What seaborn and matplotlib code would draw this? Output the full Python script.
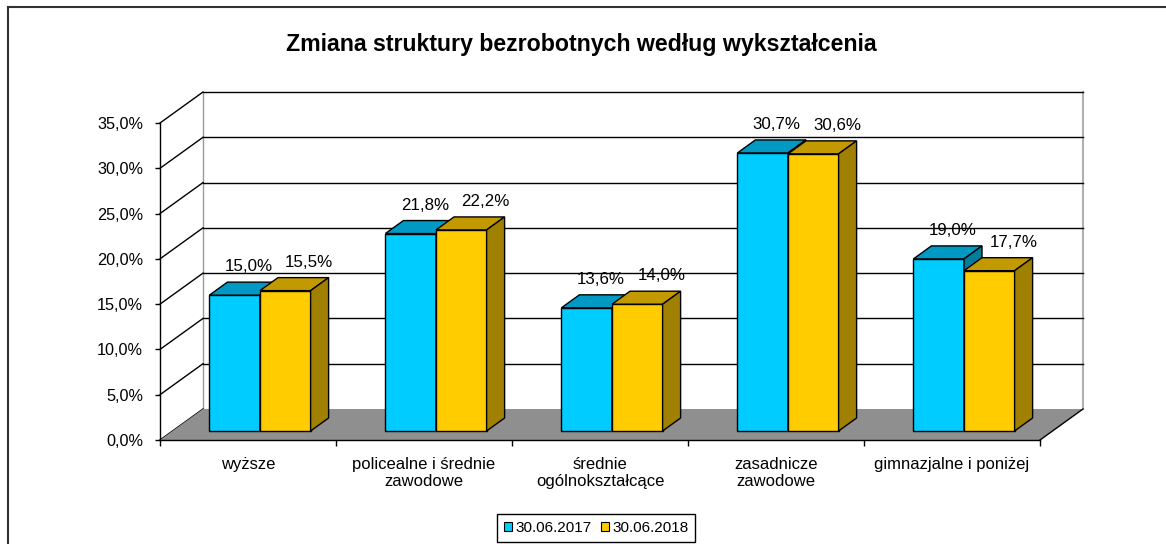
import matplotlib
matplotlib.use('Agg')
import matplotlib.pyplot as plt
from matplotlib.patches import Polygon, Patch
from matplotlib.lines import Line2D
from matplotlib.ticker import FuncFormatter
from matplotlib.transforms import offset_copy
import numpy as np
import pandas as pd
import seaborn as sns

# Data
categories = ['wyższe', 'policealne i średnie\nzawodowe', 'średnie\nogólnokształcące',
              'zasadnicze\nzawodowe', 'gimnazjalne i poniżej']
series = ['30.06.2017', '30.06.2018']
vals_2017 = [15.0, 21.8, 13.6, 30.7, 19.0]
vals_2018 = [15.5, 22.2, 14.0, 30.6, 17.7]
y_ticks = [0, 5, 10, 15, 20, 25, 30, 35]
title = 'Zmiana struktury bezrobotnych według wykształcenia'

# Colours: front / top / side of each series
front_cols = ['#00ccff', '#ffcc00']
top_cols = ['#0099c4', '#c29a00']
side_cols = ['#007c9c', '#a08000']

df = pd.DataFrame({
    'kategoria': categories * 2,
    'wartosc': vals_2017 + vals_2018,
    'data': [series[0]] * len(categories) + [series[1]] * len(categories),
})

plt.rcParams['font.family'] = ['Liberation Sans', 'DejaVu Sans']

W, H = 1166, 544
fig = plt.figure(figsize=(W / 100, H / 100), dpi=100)
ax = fig.add_axes([160 / W, 104 / H, 880 / W, 317 / H])

sns.barplot(data=df, x='kategoria', y='wartosc', hue='data', hue_order=series,
            palette=front_cols, saturation=1, width=0.575, edgecolor='black',
            linewidth=1, legend=False, errorbar=None, ax=ax)

ax.set_xlim(-0.5, len(categories) - 0.5)
ax.set_ylim(0, 35)
ax.set_xlabel('')
ax.set_ylabel('')

# pixel -> data conversion (for the fake 3D depth)
px2x = len(categories) / 880
px2y = 35 / 317
BX, BY = 43, 31      # back wall offset in px
FX, FY = 12, 9       # front face of bars offset in px
DX, DY = 18, 13      # bar depth in px

back_tr = offset_copy(ax.transData, fig=fig, x=BX, y=BY, units='dots')
bar_tr = offset_copy(ax.transData, fig=fig, x=FX, y=FY, units='dots')

x_left, x_right = -0.5, len(categories) - 0.5

# back wall gridlines and side wall diagonals
for v in y_ticks:
    if v > 0:
        ax.plot([x_left, x_right], [v, v], transform=back_tr, color='black',
                lw=1, clip_on=False, zorder=0.5)
    ax.plot([x_left, x_left + BX * px2x], [v, v + BY * px2y], color='black',
            lw=1, clip_on=False, zorder=0.6)
ax.plot([x_left, x_left], [0, 35], transform=back_tr, color='#9a9a9a', lw=1,
        clip_on=False, zorder=0.4)
ax.plot([x_right, x_right], [0, 35], transform=back_tr, color='#b0b0b0', lw=1.5,
        clip_on=False, zorder=0.4)

# floor
floor = Polygon([(x_left, 0), (x_right, 0),
                 (x_right + BX * px2x, BY * px2y), (x_left + BX * px2x, BY * px2y)],
                closed=True, fc='#8f8f8f', ec='none', zorder=1, clip_on=False)
ax.add_patch(floor)
ax.plot([x_right, x_right + BX * px2x], [0, BY * px2y], color='black', lw=1,
        clip_on=False, zorder=1.1)

# 3D bars
lab_dx = [14, 24]
for j, cont in enumerate(ax.containers):
    for i, rect in enumerate(cont.patches):
        z = 3 + (2 * i + j) * 0.01
        rect.set_transform(bar_tr)
        rect.set_zorder(z)
        rect.set_clip_on(False)
        x0, w, h = rect.get_x(), rect.get_width(), rect.get_height()
        x1 = x0 + w
        dx, dy = DX * px2x, DY * px2y
        top = Polygon([(x0, h), (x1, h), (x1 + dx, h + dy), (x0 + dx, h + dy)],
                      closed=True, transform=bar_tr, fc=top_cols[j], ec='black',
                      lw=1, zorder=z + 0.001, clip_on=False)
        side = Polygon([(x1, 0), (x1 + dx, dy), (x1 + dx, h + dy), (x1, h)],
                       closed=True, transform=bar_tr, fc=side_cols[j], ec='black',
                       lw=1, zorder=z + 0.002, clip_on=False)
        ax.add_patch(top)
        ax.add_patch(side)
        ax.text(x0 + w / 2, h, f'{h:.1f}%'.replace('.', ','),
                transform=offset_copy(ax.transData, fig=fig, x=FX + lab_dx[j],
                                      y=FY + 24, units='dots'),
                ha='center', va='baseline', fontsize=12.2, zorder=10)

# axes styling
for s in ['top', 'right']:
    ax.spines[s].set_visible(False)
for s in ['left', 'bottom']:
    ax.spines[s].set_color('black')
    ax.spines[s].set_linewidth(1)
ax.patch.set_alpha(0)

ax.set_yticks(y_ticks)
ax.yaxis.set_major_formatter(FuncFormatter(lambda v, p: f'{v:.1f}%'.replace('.', ',')))
ax.tick_params(axis='y', left=True, length=3.6, width=1, color='black', pad=8.5,
               labelsize=11.7, labelcolor='black', direction='out')
ax.set_xticks(range(len(categories)))
ax.set_xticklabels(categories)
ax.set_xticks(np.arange(-0.5, len(categories), 1), minor=True)
ax.tick_params(axis='x', which='major', length=0, pad=12, labelsize=12,
               labelcolor='black')
ax.tick_params(axis='x', which='minor', bottom=True, length=4, width=1,
               color='black', direction='out')

# title
fig.text(581 / W, 1 - 45 / H, title, ha='center', va='center', fontsize=16.7,
         fontweight='bold')

# legend
handles = [Patch(fc=front_cols[k], ec='black', lw=0.8, label=series[k])
           for k in range(len(series))]
leg = fig.legend(handles=handles, loc='center', bbox_to_anchor=(596 / W, 1 - 528 / H),
                 ncol=2, frameon=True, fancybox=False, edgecolor='black',
                 framealpha=1, fontsize=11, handlelength=0.55, handleheight=0.55,
                 handletextpad=0.2, columnspacing=0.6, borderpad=0.45,
                 borderaxespad=0)
leg.get_frame().set_linewidth(1)

# outer border (top and left)
fig.add_artist(Line2D([8 / W, 8 / W], [0, 1 - 7 / H], transform=fig.transFigure,
                      color='#333333', lw=1.5))
fig.add_artist(Line2D([8 / W, 1], [1 - 7 / H, 1 - 7 / H], transform=fig.transFigure,
                      color='#333333', lw=1.5))

fig.savefig('out.png', dpi=100)
